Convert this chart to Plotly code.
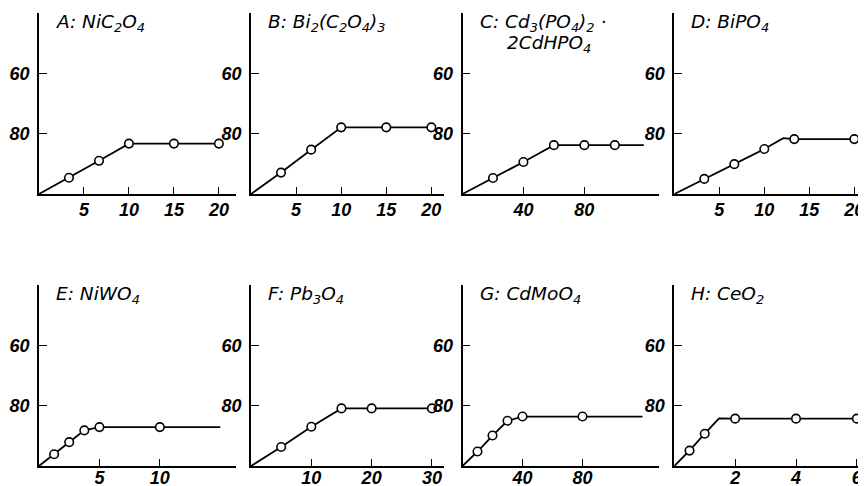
import plotly.graph_objects as go

# ---------------- data ----------------
panel_titles = [
    "A: NiC<sub>2</sub>O<sub>4</sub>",
    "B: Bi<sub>2</sub>(C<sub>2</sub>O<sub>4</sub>)<sub>3</sub>",
    "C: Cd<sub>3</sub>(PO<sub>4</sub>)<sub>2</sub> ·",
    "D: BiPO<sub>4</sub>",
    "E: NiWO<sub>4</sub>",
    "F: Pb<sub>3</sub>O<sub>4</sub>",
    "G: CdMoO<sub>4</sub>",
    "H: CeO<sub>2</sub>",
]
title_c_line2 = "2CdHPO<sub>4</sub>"

# curve paths (line)
A_line_x = [0, 3.33, 6.67, 10, 15, 20]
A_line_y = [100, 94.6, 89.0, 83.3, 83.3, 83.3]
B_line_x = [0, 3.33, 6.67, 10, 15, 20]
B_line_y = [100, 92.9, 85.3, 77.9, 77.9, 77.9]
C_line_x = [0, 20, 40, 60, 80, 100, 119]
C_line_y = [100, 94.7, 89.4, 83.8, 83.8, 83.8, 83.8]
D_line_x = [0, 3.33, 6.67, 10, 12.1, 13.33, 20]
D_line_y = [100, 95.0, 90.1, 85.1, 81.5, 81.8, 81.8]
E_line_x = [0, 1.25, 2.5, 3.75, 5, 10, 15]
E_line_y = [100, 96.1, 92.1, 88.2, 87.1, 87.1, 87.1]
F_line_x = [0, 5, 10, 15, 20, 30]
F_line_y = [100, 93.7, 87.0, 80.9, 80.9, 80.9]
G_line_x = [0, 10, 20, 30, 40, 80, 120]
G_line_y = [100, 95.2, 89.9, 85.0, 83.6, 83.6, 83.6]
H_line_x = [0, 0.5, 1.0, 1.47, 2, 4, 6]
H_line_y = [100, 94.9, 89.3, 84.2, 84.3, 84.3, 84.3]

# measured points (open circles)
A_pts_x = [3.33, 6.67, 10, 15, 20]
A_pts_y = [94.6, 89.0, 83.3, 83.3, 83.3]
B_pts_x = [3.33, 6.67, 10, 15, 20]
B_pts_y = [92.9, 85.3, 77.9, 77.9, 77.9]
C_pts_x = [20, 40, 60, 80, 100]
C_pts_y = [94.7, 89.4, 83.8, 83.8, 83.8]
D_pts_x = [3.33, 6.67, 10, 13.33, 20]
D_pts_y = [95.0, 90.1, 85.1, 81.8, 81.8]
E_pts_x = [1.25, 2.5, 3.75, 5, 10]
E_pts_y = [96.1, 92.1, 88.2, 87.1, 87.1]
F_pts_x = [5, 10, 15, 20, 30]
F_pts_y = [93.7, 87.0, 80.9, 80.9, 80.9]
G_pts_x = [10, 20, 30, 40, 80]
G_pts_y = [95.2, 89.9, 85.0, 83.6, 83.6]
H_pts_x = [0.5, 1.0, 2, 4, 6]
H_pts_y = [94.9, 89.3, 84.3, 84.3, 84.3]

# tick labels
y_ticks = [60, 80]
A_xticks = [5, 10, 15, 20]
B_xticks = [5, 10, 15, 20]
C_xticks = [40, 80]
D_xticks = [5, 10, 15, 20]
E_xticks = [5, 10]
F_xticks = [10, 20, 30]
G_xticks = [40, 80]
H_xticks = [2, 4, 6]

# ---------------- layout helpers ----------------
# the page body has an 8px margin, so the figure is drawn 8px in from the
# window's top-left corner; pixel positions below are window pixels.
OFF = 8
W, H = 866 - OFF, 486 - OFF
x_max = [21.9, 21.4, 129, 21.3, 16.3, 32, 131, 6.3]
col_px = [(39, 236), (251, 444), (462.5, 659), (674.3, 866)]
row_px = [(13, 194), (285, 466)]
row_standoff = [-1, -5]

panels = [
    (A_line_x, A_line_y, A_pts_x, A_pts_y, A_xticks),
    (B_line_x, B_line_y, B_pts_x, B_pts_y, B_xticks),
    (C_line_x, C_line_y, C_pts_x, C_pts_y, C_xticks),
    (D_line_x, D_line_y, D_pts_x, D_pts_y, D_xticks),
    (E_line_x, E_line_y, E_pts_x, E_pts_y, E_xticks),
    (F_line_x, F_line_y, F_pts_x, F_pts_y, F_xticks),
    (G_line_x, G_line_y, G_pts_x, G_pts_y, G_xticks),
    (H_line_x, H_line_y, H_pts_x, H_pts_y, H_xticks),
]


def px_x(v):
    return (v - OFF) / W


def px_y(v):
    return 1 - (v - OFF) / H


tick_font = dict(family="Liberation Sans", size=18, color="black",
                 weight="bold", style="italic")
title_font = dict(family="DejaVu Sans", size=18.5, color="black", style="italic")

fig = go.Figure()
layout = dict(
    width=W, height=H, template="none",
    margin=dict(l=0, r=0, t=0, b=0),
    paper_bgcolor="white", plot_bgcolor="white",
    showlegend=False,
)
annotations = []

for i, (lx, ly, px, py, xt) in enumerate(panels):
    r, c = divmod(i, 4)
    n = "" if i == 0 else str(i + 1)
    xa, ya = "x" + n, "y" + n
    x0, x1 = col_px[c]
    yt, yb = row_px[r]
    fig.add_trace(go.Scatter(x=lx, y=ly, mode="lines", xaxis=xa, yaxis=ya,
                             line=dict(color="black", width=1.8),
                             hoverinfo="skip"))
    fig.add_trace(go.Scatter(x=px, y=py, mode="markers", xaxis=xa, yaxis=ya,
                             marker=dict(symbol="circle", size=8.5, color="white",
                                         line=dict(color="black", width=1.6)),
                             cliponaxis=False))
    layout["xaxis" + n] = dict(
        domain=[px_x(x0), min(px_x(x1), 1.0)], anchor=ya, range=[0, x_max[i]],
        showline=True, linecolor="black", linewidth=1.6,
        ticks="inside", ticklen=7, tickwidth=1.4, tickcolor="black",
        tickvals=xt, ticktext=[str(v) for v in xt], tickfont=tick_font,
        showgrid=False, zeroline=False, automargin=False,
        ticklabelstandoff=row_standoff[r], fixedrange=True,
    )
    layout["yaxis" + n] = dict(
        domain=[px_y(yb), px_y(yt)], anchor=xa, range=[100, 40],
        showline=True, linecolor="black", linewidth=1.6,
        ticks="inside", ticklen=8, tickwidth=1.4, tickcolor="black",
        tickvals=y_ticks, ticktext=[str(v) for v in y_ticks], tickfont=tick_font,
        showgrid=False, zeroline=False, automargin=False,
        ticklabelstandoff=4, fixedrange=True,
    )
    annotations.append(dict(
        text=panel_titles[i], xref="paper", yref="paper",
        x=px_x(x0 + 15), y=px_y(yt + 10),
        xanchor="left", yanchor="middle", showarrow=False, font=title_font,
    ))

# second line of panel C title
annotations.append(dict(
    text=title_c_line2, xref="paper", yref="paper",
    x=px_x(col_px[2][0] + 42), y=px_y(row_px[0][0] + 31),
    xanchor="left", yanchor="middle", showarrow=False, font=title_font,
))

layout["annotations"] = annotations
fig.update_layout(**layout)
fig.write_html("out.html")
